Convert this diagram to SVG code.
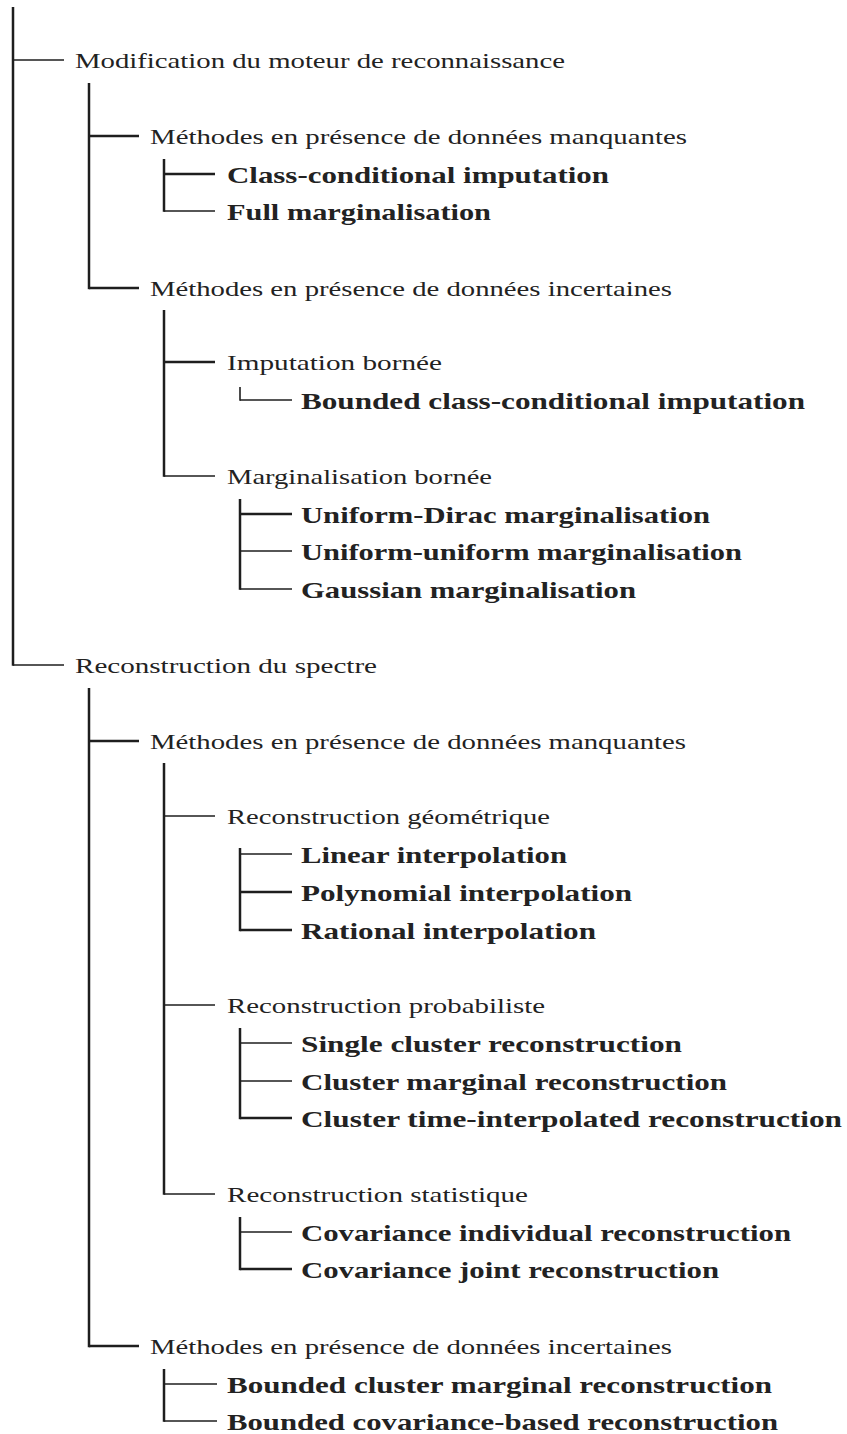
<svg xmlns="http://www.w3.org/2000/svg" width="847" height="1434" viewBox="0 0 847 1434">
<style>
.c{stroke:#1e1e1e;fill:none;stroke-linecap:butt}
.v{stroke-width:2.5}
.k{stroke-width:2.5}
.t{stroke-width:1.6}
.r{font-family:"Liberation Serif","DejaVu Serif",serif;font-size:22px;fill:#222}
.b{font-family:"Liberation Serif","DejaVu Serif",serif;font-size:24px;font-weight:bold;fill:#222}
</style>
<rect width="847" height="1434" fill="#fff"/>
<g id="connectors" class="c">
<line class="v" x1="13" y1="7" x2="13" y2="665.8"/>
<line class="t" x1="13" y1="60" x2="64" y2="60"/>
<line class="t" x1="13" y1="665" x2="64" y2="665"/>
<line class="v" x1="89" y1="83" x2="89" y2="289.2"/>
<line class="k" x1="89" y1="136" x2="139" y2="136"/>
<line class="k" x1="89" y1="288" x2="139" y2="288"/>
<line class="v" x1="164" y1="159" x2="164" y2="211.8"/>
<line class="k" x1="164" y1="174" x2="215" y2="174"/>
<line class="t" x1="164" y1="211" x2="215" y2="211"/>
<line class="v" x1="164" y1="310" x2="164" y2="476.8"/>
<line class="k" x1="164" y1="362" x2="215" y2="362"/>
<line class="t" x1="164" y1="476" x2="215" y2="476"/>
<line class="t" x1="240" y1="387" x2="240" y2="400.8"/>
<line class="t" x1="240" y1="400" x2="292" y2="400"/>
<line class="v" x1="240" y1="499" x2="240" y2="589.8"/>
<line class="k" x1="240" y1="514" x2="292" y2="514"/>
<line class="t" x1="240" y1="551" x2="292" y2="551"/>
<line class="t" x1="240" y1="589" x2="292" y2="589"/>
<line class="v" x1="89" y1="688" x2="89" y2="1347.2"/>
<line class="k" x1="89" y1="741" x2="139" y2="741"/>
<line class="k" x1="89" y1="1346" x2="139" y2="1346"/>
<line class="v" x1="164" y1="763" x2="164" y2="1194.8"/>
<line class="t" x1="164" y1="816" x2="215" y2="816"/>
<line class="t" x1="164" y1="1005" x2="215" y2="1005"/>
<line class="t" x1="164" y1="1194" x2="215" y2="1194"/>
<line class="v" x1="240" y1="848" x2="240" y2="931.2"/>
<line class="t" x1="240" y1="854" x2="292" y2="854"/>
<line class="k" x1="240" y1="892" x2="292" y2="892"/>
<line class="k" x1="240" y1="930" x2="292" y2="930"/>
<line class="v" x1="240" y1="1028" x2="240" y2="1119.2"/>
<line class="t" x1="240" y1="1043" x2="292" y2="1043"/>
<line class="t" x1="240" y1="1081" x2="292" y2="1081"/>
<line class="k" x1="240" y1="1118" x2="292" y2="1118"/>
<line class="v" x1="240" y1="1217" x2="240" y2="1270.2"/>
<line class="t" x1="240" y1="1232" x2="292" y2="1232"/>
<line class="k" x1="240" y1="1269" x2="292" y2="1269"/>
<line class="v" x1="164" y1="1369" x2="164" y2="1421.8"/>
<line class="t" x1="164" y1="1384" x2="217" y2="1384"/>
<line class="t" x1="164" y1="1421" x2="217" y2="1421"/>
</g>
<g id="n1"><text class="r" x="75" y="67.5" textLength="490" lengthAdjust="spacingAndGlyphs">Modification du moteur de reconnaissance</text></g>
<g id="n2"><text class="r" x="150" y="143.5" textLength="537" lengthAdjust="spacingAndGlyphs">Méthodes en présence de données manquantes</text></g>
<g id="n3"><text class="b" x="227" y="182.5" textLength="382" lengthAdjust="spacingAndGlyphs">Class-conditional imputation</text></g>
<g id="n4"><text class="b" x="227" y="219.5" textLength="264" lengthAdjust="spacingAndGlyphs">Full marginalisation</text></g>
<g id="n5"><text class="r" x="150" y="295.5" textLength="522" lengthAdjust="spacingAndGlyphs">Méthodes en présence de données incertaines</text></g>
<g id="n6"><text class="r" x="227" y="369.5" textLength="215" lengthAdjust="spacingAndGlyphs">Imputation bornée</text></g>
<g id="n7"><text class="b" x="301" y="408.5" textLength="504" lengthAdjust="spacingAndGlyphs">Bounded class-conditional imputation</text></g>
<g id="n8"><text class="r" x="227" y="483.5" textLength="265" lengthAdjust="spacingAndGlyphs">Marginalisation bornée</text></g>
<g id="n9"><text class="b" x="301" y="522.5" textLength="409" lengthAdjust="spacingAndGlyphs">Uniform-Dirac marginalisation</text></g>
<g id="n10"><text class="b" x="301" y="559.5" textLength="441" lengthAdjust="spacingAndGlyphs">Uniform-uniform marginalisation</text></g>
<g id="n11"><text class="b" x="301" y="597.5" textLength="335" lengthAdjust="spacingAndGlyphs">Gaussian marginalisation</text></g>
<g id="n12"><text class="r" x="75" y="672.5" textLength="302" lengthAdjust="spacingAndGlyphs">Reconstruction du spectre</text></g>
<g id="n13"><text class="r" x="150" y="748.5" textLength="536" lengthAdjust="spacingAndGlyphs">Méthodes en présence de données manquantes</text></g>
<g id="n14"><text class="r" x="227" y="823.5" textLength="323" lengthAdjust="spacingAndGlyphs">Reconstruction géométrique</text></g>
<g id="n15"><text class="b" x="301" y="862.5" textLength="266" lengthAdjust="spacingAndGlyphs">Linear interpolation</text></g>
<g id="n16"><text class="b" x="301" y="900.5" textLength="331" lengthAdjust="spacingAndGlyphs">Polynomial interpolation</text></g>
<g id="n17"><text class="b" x="301" y="938.5" textLength="295" lengthAdjust="spacingAndGlyphs">Rational interpolation</text></g>
<g id="n18"><text class="r" x="227" y="1012.5" textLength="318" lengthAdjust="spacingAndGlyphs">Reconstruction probabiliste</text></g>
<g id="n19"><text class="b" x="301" y="1051.5" textLength="381" lengthAdjust="spacingAndGlyphs">Single cluster reconstruction</text></g>
<g id="n20"><text class="b" x="301" y="1089.5" textLength="426" lengthAdjust="spacingAndGlyphs">Cluster marginal reconstruction</text></g>
<g id="n21"><text class="b" x="301" y="1126.5" textLength="541" lengthAdjust="spacingAndGlyphs">Cluster time-interpolated reconstruction</text></g>
<g id="n22"><text class="r" x="227" y="1201.5" textLength="301" lengthAdjust="spacingAndGlyphs">Reconstruction statistique</text></g>
<g id="n23"><text class="b" x="301" y="1240.5" textLength="490" lengthAdjust="spacingAndGlyphs">Covariance individual reconstruction</text></g>
<g id="n24"><text class="b" x="301" y="1277.5" textLength="418" lengthAdjust="spacingAndGlyphs">Covariance joint reconstruction</text></g>
<g id="n25"><text class="r" x="150" y="1353.5" textLength="522" lengthAdjust="spacingAndGlyphs">Méthodes en présence de données incertaines</text></g>
<g id="n26"><text class="b" x="227" y="1392.5" textLength="545" lengthAdjust="spacingAndGlyphs">Bounded cluster marginal reconstruction</text></g>
<g id="n27"><text class="b" x="227" y="1429.5" textLength="551" lengthAdjust="spacingAndGlyphs">Bounded covariance-based reconstruction</text></g>
</svg>
